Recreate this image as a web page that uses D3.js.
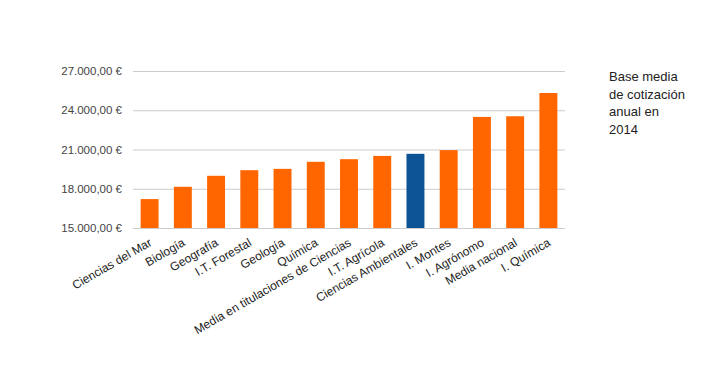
<!DOCTYPE html>
<html lang="es">
<head>
<meta charset="UTF-8" />
<title>Base media de cotización anual en 2014</title>
<style>
    body { margin: 0; background: #fff; }
    #chart text { font-family: "Liberation Sans", Arial, sans-serif; }
</style>
</head>
<body>
<div id="chart"></div>
<script src="https://cdn.jsdelivr.net/npm/d3@7"></script>
<script>
// titulaciones y base media de cotización (€)
const categories = [
    'Ciencias del Mar', 'Biología', 'Geografía', 'I.T. Forestal', 'Geología', 'Química',
    'Media en titulaciones de Ciencias', 'I.T. Agrícola', 'Ciencias Ambientales',
    'I. Montes', 'I. Agrónomo', 'Media nacional', 'I. Química'
];
const values = [17210, 18150, 18990, 19420, 19520, 20060, 20260, 20510, 20670, 20950, 23490, 23540, 25320];
const highlight = 'Ciencias Ambientales';
const yTicks = [15000, 18000, 21000, 24000, 27000];
const legendLines = ['Base media', 'de cotización', 'anual en', '2014'];

const width = 701, height = 371;
const margin = { top: 71, right: 136, bottom: 143, left: 133 };

const svg = d3.select('#chart').append('svg')
    .attr('width', width)
    .attr('height', height);

const x = d3.scaleBand()
    .domain(categories)
    .range([margin.left, width - margin.right])
    .paddingInner(0.46)
    .paddingOuter(0.23);

const y = d3.scaleLinear()
    .domain([15000, 27000])
    .range([height - margin.bottom, margin.top]);

// formato español: 27.000,00 €
const fmt = d3.formatLocale({ decimal: ',', thousands: '.', grouping: [3], currency: ['', ' €'] });
const euro = fmt.format('$,.2f');

// rejilla + etiquetas del eje y
const yAxis = svg.append('g')
    .attr('transform', `translate(${margin.left},0)`)
    .call(d3.axisLeft(y).tickValues(yTicks).tickFormat(euro)
        .tickSize(-(width - margin.left - margin.right)).tickPadding(11));
yAxis.select('.domain').remove();
yAxis.selectAll('.tick line').attr('stroke', '#cccccc');
yAxis.selectAll('.tick text').attr('fill', '#444').style('font-size', '11.5px');

// barras
svg.append('g').selectAll('rect')
    .data(categories)
    .join('rect')
    .attr('x', d => x(d))
    .attr('width', x.bandwidth())
    .attr('y', (d, i) => y(values[i]))
    .attr('height', (d, i) => y(15000) - y(values[i]))
    .attr('fill', d => d === highlight ? '#0b5394' : '#ff6600');

// etiquetas del eje x, giradas
const xAxis = svg.append('g')
    .attr('transform', `translate(0,${height - margin.bottom})`)
    .call(d3.axisBottom(x).tickSize(0).tickPadding(0));
xAxis.select('.domain').remove();
xAxis.selectAll('.tick text')
    .attr('fill', '#222')
    .style('font-size', '12px')
    .attr('text-anchor', 'end')
    .attr('dy', null)
    .attr('transform', 'translate(3,17) rotate(-30)');

// leyenda
svg.append('text')
    .attr('x', 609)
    .attr('y', 81)
    .attr('fill', '#222')
    .style('font-size', '13px')
    .selectAll('tspan')
    .data(legendLines)
    .join('tspan')
    .attr('x', 609)
    .attr('dy', (d, i) => i === 0 ? 0 : 17.5)
    .text(d => d);
</script>
</body>
</html>
